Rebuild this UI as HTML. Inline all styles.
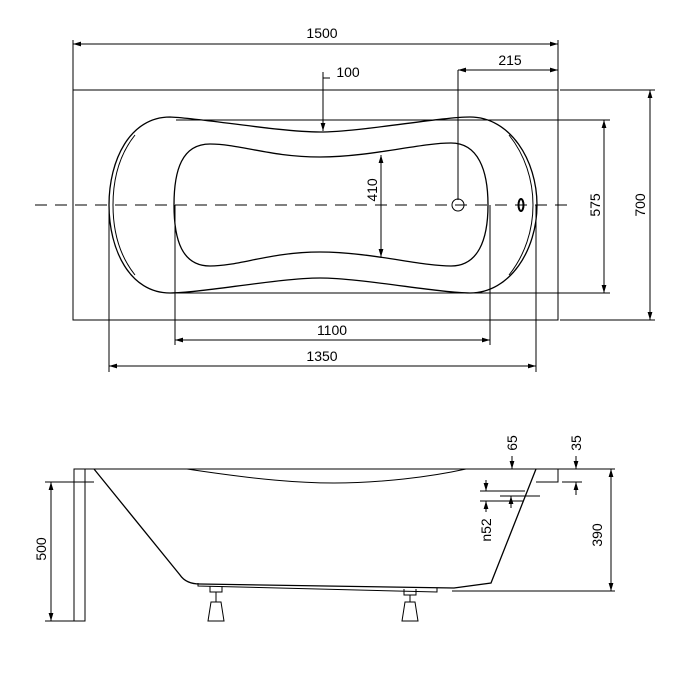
<!DOCTYPE html>
<html><head><style>body{margin:0;background:#fff}svg{display:block}</style></head><body>
<svg width="692" height="682" viewBox="0 0 692 682" xmlns="http://www.w3.org/2000/svg" font-family="Liberation Sans, sans-serif" font-size="14" fill="none" stroke="#000">
<defs><marker id="a" viewBox="0 0 10 10" refX="10" refY="5" markerWidth="8" markerHeight="8" orient="auto-start-reverse"><path d="M0,2 L10,5 L0,8 z" fill="#000" stroke="none"/></marker></defs>
<g stroke-width="1">
<rect x="73" y="90" width="485" height="230"/>
<line x1="73" y1="40" x2="73" y2="90"/><line x1="558" y1="40" x2="558" y2="90"/>
<line x1="73" y1="44" x2="558" y2="44" marker-start="url(#a)" marker-end="url(#a)"/>
<line x1="458" y1="70" x2="558" y2="70" marker-start="url(#a)" marker-end="url(#a)"/>
<line x1="458" y1="70" x2="458" y2="200"/>
<line x1="323" y1="72" x2="323" y2="131" marker-end="url(#a)"/><line x1="323" y1="78" x2="330" y2="78"/>
<line x1="35" y1="205" x2="572" y2="205" stroke-dasharray="12,8"/>
<circle cx="458" cy="205" r="6"/>
<ellipse cx="521" cy="205" rx="2.5" ry="6" stroke-width="2"/>
<line x1="176" y1="120" x2="610" y2="120"/><line x1="176" y1="293" x2="610" y2="293"/>
<path stroke-width="1.3" d="M170,117 C200,118 280,132 320,132 C360,132 440,117 470,117 C510,117 537,160 537,205 C537,250 510,293 470,293 C440,293 360,278 320,278 C280,278 200,293 170,293 C130,293 109,250 109,205 C109,160 130,117 170,117 Z"/>
<path d="M135,135 C119,155 113,180 113,205 C113,230 119,255 135,275 M509,135 C525,155 533,180 533,205 C533,230 525,255 509,275"/>
<path stroke-width="1.3" d="M210,144 C240,144 270,157 320,157 C370,157 420,143 451,143 C478,143 488,170 488,205 C488,240 478,266 451,266 C420,266 370,252 320,252 C270,252 240,266 210,266 C182,266 174,240 174,205 C174,170 182,144 210,144 Z"/>
<line x1="381" y1="155" x2="381" y2="257" marker-start="url(#a)" marker-end="url(#a)"/>
<line x1="604" y1="120" x2="604" y2="293" marker-start="url(#a)" marker-end="url(#a)"/>
<line x1="560" y1="90" x2="655" y2="90"/><line x1="560" y1="320" x2="655" y2="320"/>
<line x1="650" y1="90" x2="650" y2="320" marker-start="url(#a)" marker-end="url(#a)"/>
<line x1="175" y1="205" x2="175" y2="345"/><line x1="490" y1="205" x2="490" y2="345"/>
<line x1="175" y1="340" x2="490" y2="340" marker-start="url(#a)" marker-end="url(#a)"/>
<line x1="109" y1="205" x2="109" y2="372"/><line x1="536" y1="205" x2="536" y2="372"/>
<line x1="109" y1="366" x2="536" y2="366" marker-start="url(#a)" marker-end="url(#a)"/>
<rect x="74" y="469" width="11" height="152"/><line x1="74" y1="482" x2="94" y2="482"/>
<line x1="74" y1="469" x2="600" y2="469"/>
<path stroke-width="1.3" d="M94,469 L180,575 Q186,584 200,584 L454,588 L491,583 L536,469"/>
<path d="M536,469 L558,469 L558,482 L536,482"/>
<path d="M187,469 C260,480 300,483 334,483 C380,483 430,477 466,469"/>
<path d="M198,583 L198,586 L437,592 L437,588"/>
<path d="M210,586 L210,592 L222,592 L222,586 M404,589 L404,595 L416,595 L416,589"/>
<path d="M216,592 L216,602 M410,595 L410,602"/>
<path d="M211,602 L221,602 L224,621 L208,621 Z M405,602 L415,602 L418,621 L402,621 Z"/>
<line x1="51" y1="482" x2="51" y2="621" marker-start="url(#a)" marker-end="url(#a)"/>
<line x1="45" y1="482" x2="74" y2="482"/><line x1="45" y1="621" x2="74" y2="621"/>
<line x1="611" y1="469" x2="611" y2="591" marker-start="url(#a)" marker-end="url(#a)"/>
<line x1="452" y1="591" x2="615" y2="591"/><line x1="560" y1="469" x2="615" y2="469"/>
<line x1="512" y1="456" x2="512" y2="469" marker-end="url(#a)"/>
<line x1="576" y1="456" x2="576" y2="469" marker-end="url(#a)"/>
<line x1="576" y1="495" x2="576" y2="482" marker-end="url(#a)"/>
<line x1="562" y1="482" x2="582" y2="482"/>
<line x1="480" y1="491" x2="525" y2="491"/><line x1="500" y1="496" x2="540" y2="496"/><line x1="480" y1="501" x2="523" y2="501"/>
<line x1="486" y1="480" x2="486" y2="491" marker-end="url(#a)"/><line x1="486" y1="512" x2="486" y2="501" marker-end="url(#a)"/>
<line x1="511" y1="508" x2="511" y2="496" marker-end="url(#a)"/>
</g>
<g fill="#000" stroke="none" text-anchor="middle">
<text x="322" y="38">1500</text>
<text x="510" y="65">215</text>
<text x="348" y="77">100</text>
<text x="332" y="335">1100</text>
<text x="322" y="361">1350</text>
<text transform="translate(377,190) rotate(-90)">410</text>
<text transform="translate(600,205) rotate(-90)">575</text>
<text transform="translate(645,205) rotate(-90)">700</text>
<text transform="translate(46,549) rotate(-90)">500</text>
<text transform="translate(602,535) rotate(-90)">390</text>
<text transform="translate(517,443) rotate(-90)">65</text>
<text transform="translate(581,443) rotate(-90)">35</text>
<text transform="translate(491,530) rotate(-90)">n52</text>
</g>
</svg>
</body></html>
